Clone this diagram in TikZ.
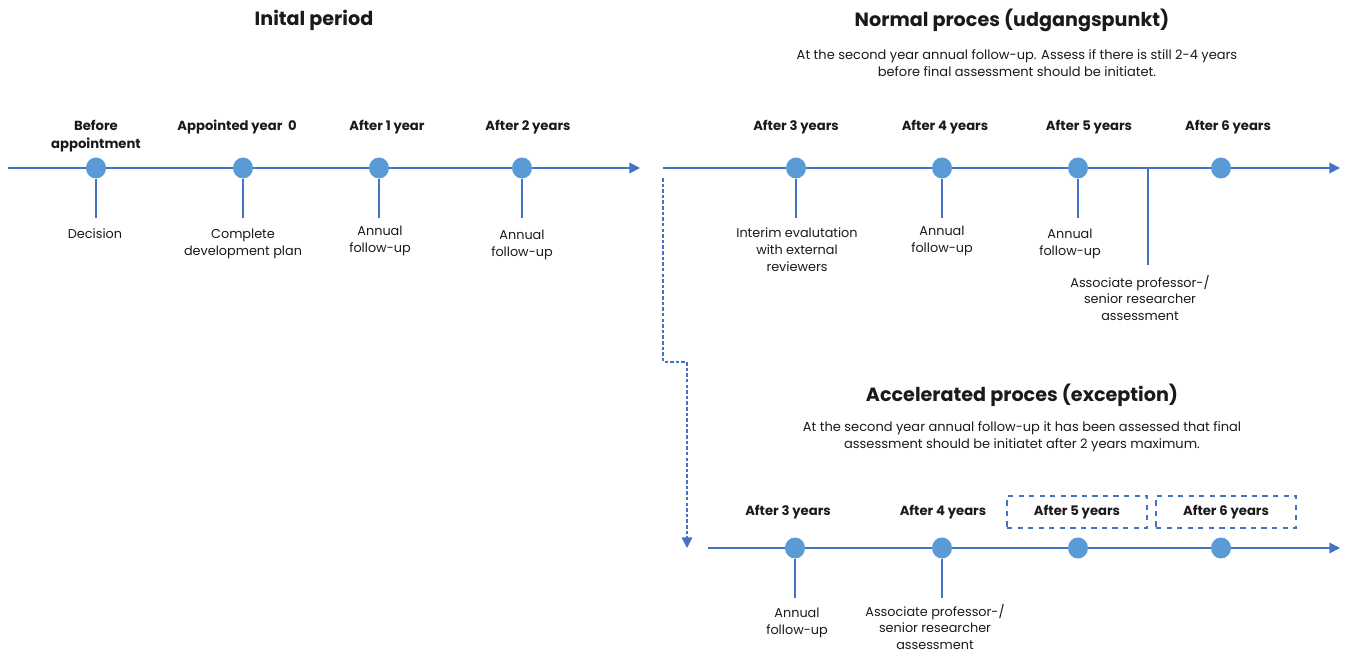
\documentclass[tikz,border=0pt]{standalone}
\usepackage{fontspec}
\setmainfont{Poppins}
\usetikzlibrary{shapes.geometric,arrows.meta}
\definecolor{lineblue}{HTML}{4472C4}
\definecolor{dotblue}{HTML}{5B9BD5}
\definecolor{txt}{HTML}{1A1A1A}
\newlength{\px}
\setlength{\px}{0.02cm}
\tikzset{
  axis/.style={draw=lineblue,line width=0.9pt,-{Triangle[length=6pt,width=6pt]}},
  dot/.style={ellipse,fill=dotblue,minimum width=20\px,minimum height=21\px,inner sep=0pt},
  stem/.style={draw=lineblue,line width=0.7pt},
  lab/.style={align=center,inner sep=0pt,text=txt,font=\fontsize{7.3}{9.6}\selectfont},
  hd/.style={align=center,inner sep=0pt,text=txt,font=\fontsize{7.5}{10.2}\selectfont\bfseries},
  ttl/.style={inner sep=0pt,text=txt,font=\fontsize{10.9}{13}\selectfont\bfseries},
  sub/.style={align=center,inner sep=0pt,text=txt,font=\fontsize{7.4}{9.6}\selectfont},
  dbox/.style={draw=lineblue,dashed,line width=0.7pt,minimum width=140\px,minimum height=32\px,inner sep=0pt},
  flow/.style={draw=lineblue,line width=0.8pt,dash pattern=on 2pt off 1.2pt,-{Triangle[length=6pt,width=6pt]}}
}
\begin{document}
\begin{tikzpicture}[x=0.02cm,y=-0.02cm]
\useasboundingbox (0,0) rectangle (1346,652);
% ---------- Initial period ----------
\node[ttl] (t1) at (314,20) {Inital period};
\coordinate (a1s) at (8,168);
\coordinate (a1e) at (640,168);
\draw[axis] (a1s) -- (a1e);
\node[dot] (d1) at (96,168) {};
\node[dot] (d2) at (243,168) {};
\node[dot] (d3) at (379,168) {};
\node[dot] (d4) at (522,168) {};
\coordinate (s1) at (96,218);
\coordinate (s2) at (243,218);
\coordinate (s3) at (379,218);
\coordinate (s4) at (522,218);
\draw[stem] (d1) -- (s1);
\draw[stem] (d2) -- (s2);
\draw[stem] (d3) -- (s3);
\draw[stem] (d4) -- (s4);
\node[hd] (h1) at (96,136) {Before\\appointment};
\node[hd] (h2) at (237,127) {Appointed year\ \ 0};
\node[hd] (h3) at (387,127) {After 1 year};
\node[hd] (h4) at (528,127) {After 2 years};
\node[lab] (l1) at (95,234) {Decision};
\node[lab] (l2) at (243,244) {Complete\\development plan};
\node[lab] (l3) at (380,241) {Annual\\follow-up};
\node[lab] (l4) at (522,245) {Annual\\follow-up};
% ---------- Normal process ----------
\node[ttl] (t2) at (1012,20) {Normal proces (udgangspunkt)};
\node[sub] (u2) at (1017,63) {At the second year annual follow-up. Assess if there is still 2-4 years\\before final assessment should be initiatet.};
\coordinate (a2s) at (663,168);
\coordinate (a2e) at (1340,168);
\draw[axis] (a2s) -- (a2e);
\node[dot] (e1) at (796,168) {};
\node[dot] (e2) at (942,168) {};
\node[dot] (e3) at (1078,168) {};
\node[dot] (e4) at (1221,168) {};
\coordinate (r1) at (796,218);
\coordinate (r2) at (942,218);
\coordinate (r3) at (1078,218);
\coordinate (m5t) at (1148,168);
\coordinate (m5b) at (1148,265);
\draw[stem] (e1) -- (r1);
\draw[stem] (e2) -- (r2);
\draw[stem] (e3) -- (r3);
\draw[stem] (m5t) -- (m5b);
\node[hd] (g1) at (796,127) {After 3 years};
\node[hd] (g2) at (945,127) {After 4 years};
\node[hd] (g3) at (1089,127) {After 5 years};
\node[hd] (g4) at (1228,127) {After 6 years};
\node[lab] (k1) at (797,250) {Interim evalutation\\with external\\reviewers};
\node[lab] (k2) at (942,241) {Annual\\follow-up};
\node[lab] (k3) at (1070,244) {Annual\\follow-up};
\node[lab] (k4) at (1140,298) {Associate professor-/\\senior researcher\\assessment};
% ---------- Accelerated process ----------
\node[ttl] (t3) at (1022,395) {Accelerated proces (exception)};
\node[sub] (u3) at (1022,437) {At the second year annual follow-up it has been assessed that final\\assessment should be initiatet after 2 years maximum.};
\coordinate (a3s) at (708,548);
\coordinate (a3e) at (1340,548);
\draw[axis] (a3s) -- (a3e);
\node[dot] (f1) at (795,548) {};
\node[dot] (f2) at (942,548) {};
\node[dot] (f3) at (1078,548) {};
\node[dot] (f4) at (1221,548) {};
\coordinate (q1) at (795,598);
\coordinate (q2) at (942,598);
\draw[stem] (f1) -- (q1);
\draw[stem] (f2) -- (q2);
\node[hd] (p1) at (788,512) {After 3 years};
\node[hd] (p2) at (943,512) {After 4 years};
\node[dbox] (b3) at (1077,512) {};
\node[dbox] (b4) at (1226,512) {};
\node[hd] (p3) at (b3.center) {After 5 years};
\node[hd] (p4) at (b4.center) {After 6 years};
\node[lab] (v1) at (797,623) {Annual\\follow-up};
\node[lab] (v2) at (935,627) {Associate professor-/\\senior researcher\\assessment};
% ---------- dashed flow ----------
\coordinate (c0) at (663,178);
\coordinate (c1) at (663,362);
\coordinate (c2) at (687,362);
\coordinate (c3) at (687,548);
\draw[flow] (c0) -- (c1) -- (c2) -- (c3);
\end{tikzpicture}
\end{document}
